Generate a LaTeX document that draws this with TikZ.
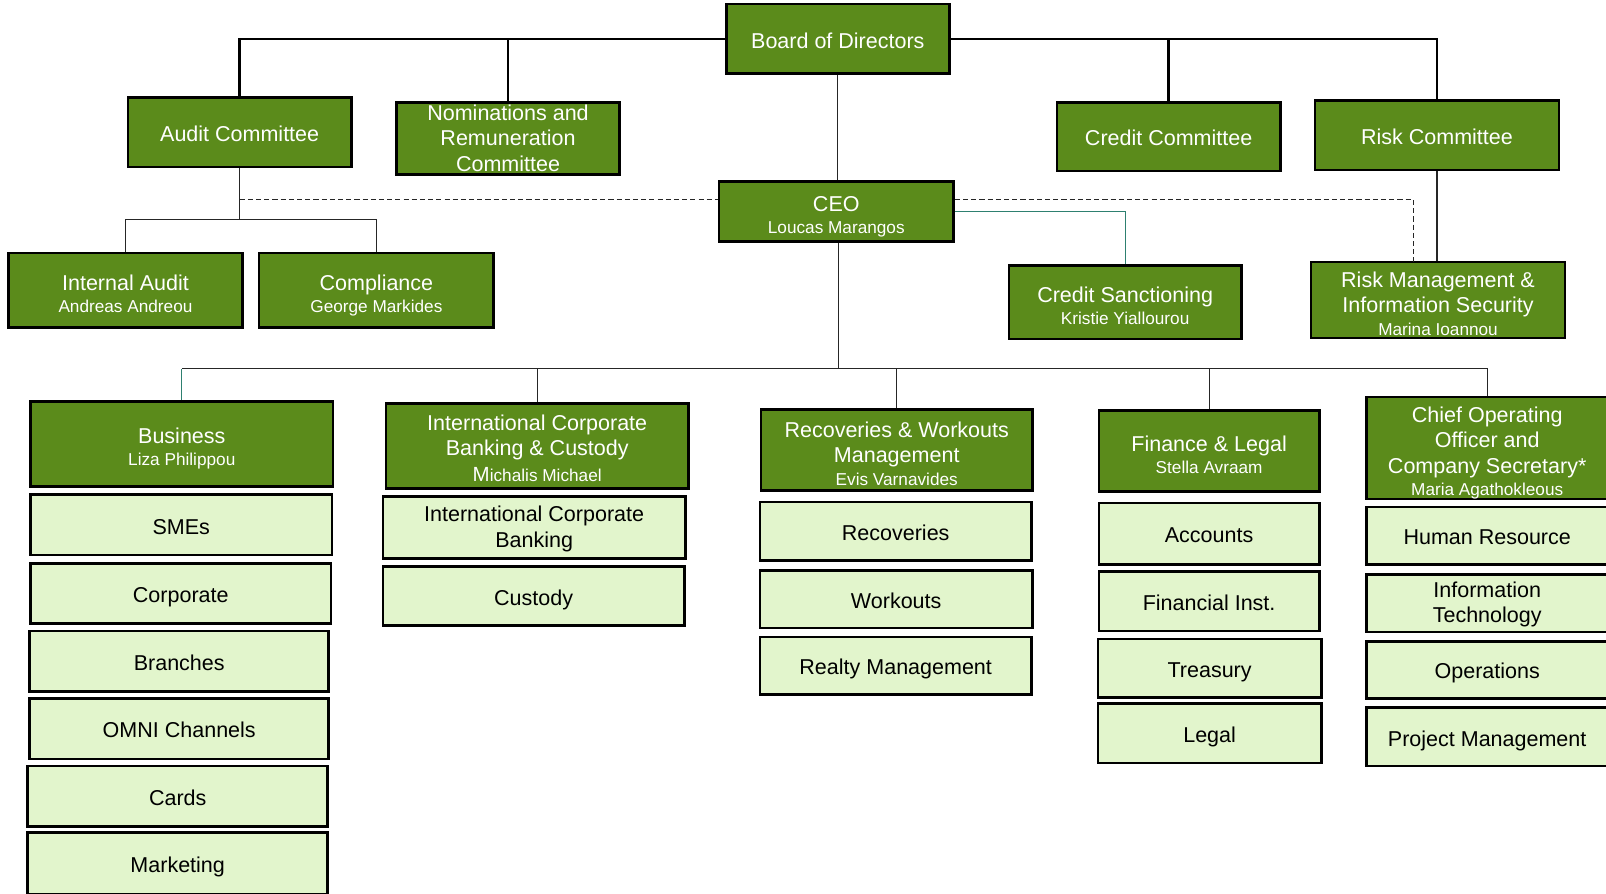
\documentclass[tikz,border=0pt]{standalone}
\usepackage{fontspec}
\setmainfont{Liberation Sans}
\definecolor{hdrgreen}{RGB}{91,139,27}
\definecolor{lightgreen}{RGB}{226,245,204}
\definecolor{tealline}{RGB}{46,128,112}
\newcommand{\st}{\rule[-3pt]{0pt}{20.8pt}}
\newcommand{\hst}{\rule{0pt}{24.6pt}}
\newcommand{\sst}{\rule[-3pt]{0pt}{10pt}}
\newcommand{\subn}[1]{{\fontsize{16.8}{19}\selectfont #1\sst}}
\begin{document}
\begin{tikzpicture}[x=1pt,y=-1pt,
  box/.style={draw=black,line width=2.6pt,inner sep=0pt,align=center,font=\fontsize{21}{24.8}\selectfont},
  hdr/.style={box,fill=hdrgreen,text=white},
  sub/.style={box,fill=lightgreen,text=black},
  one/.style={text height=20.8pt,text depth=3pt},
  thickcon/.style={draw=black,line width=2.4pt},
  thincon/.style={draw=black!85,line width=1.2pt},
  dashcon/.style={draw=black!85,line width=1.2pt,dash pattern=on 5pt off 3pt},
  tealcon/.style={draw=tealline,line width=1.2pt}]
\useasboundingbox (0,0) rectangle (1568,872);
\fill[white] (0,0) rectangle (1568,872);

% top level
\node[hdr,one,minimum width=218pt,minimum height=68pt] (board) at (818,38) {Board of Directors};
\node[hdr,one,minimum width=218pt,minimum height=68pt] (audit) at (234,129) {Audit Committee};
\node[hdr,minimum width=218pt,minimum height=70pt] (nom) at (496,135) {\st Nominations and\\Remuneration\\Committee\st};
\node[hdr,one,minimum width=218pt,minimum height=67pt] (credit) at (1141,133.5) {Credit Committee};
\node[hdr,one,minimum width=238pt,minimum height=68pt] (risk) at (1403,132) {Risk Committee};
\node[hdr,minimum width=229pt,minimum height=59pt] (ceo) at (816.5,206.5) {\hst CEO\\[-3pt]\subn{Loucas Marangos}};
\node[hdr,minimum width=229pt,minimum height=73pt] (ia) at (122.5,283.5) {\hst Internal Audit\\[-3pt]\subn{Andreas Andreou}};
\node[hdr,minimum width=229pt,minimum height=73pt] (comp) at (367.5,283.5) {\hst Compliance\\[-3pt]\subn{George Markides}};
\node[hdr,minimum width=227pt,minimum height=72pt] (cs) at (1098.5,295) {\hst Credit Sanctioning\\[-3pt]\subn{Kristie Yiallourou}};
\node[hdr,minimum width=248pt,minimum height=74pt] (rmis) at (1404,293) {\hst Risk Management \&\\Information Security\\[-3pt]\subn{Marina Ioannou}};

% divisions
\node[hdr,minimum width=295pt,minimum height=83pt] (business) at (177.5,433.5) {\hst Business\\[-3pt]\subn{Liza Philippou}};
\node[hdr,minimum width=295pt,minimum height=83pt] (icbc) at (524.5,435.5) {\rule{0pt}{22pt}International Corporate\\Banking \& Custody\\\subn{{\fontsize{20}{19}\selectfont M}ichalis Michael}};
\node[hdr,minimum width=265pt,minimum height=79pt] (rwm) at (875.5,439.5) {\hst Recoveries \& Workouts\\Management\\[-3pt]\subn{Evis Varnavides}};
\node[hdr,minimum width=215pt,minimum height=79pt] (fin) at (1180.5,440.5) {\hst Finance \& Legal\\[-3pt]\subn{Stella Avraam}};
\node[hdr,minimum width=236pt,minimum height=95pt] (coo) at (1452,437.5) {\hst Chief Operating\\Officer and\\Company Secretary*\\[-3pt]\subn{Maria Agathokleous}};

% units
\node[sub,one,minimum width=294pt,minimum height=59pt] (smes) at (177,512.5) {SMEs};
\node[sub,one,minimum width=293pt,minimum height=59pt] (corp) at (176.5,579.5) {Corporate};
\node[sub,one,minimum width=292pt,minimum height=59pt] (branches) at (175,645.5) {Branches};
\node[sub,one,minimum width=292pt,minimum height=59pt] (omni) at (175,711.5) {OMNI Channels};
\node[sub,one,minimum width=293pt,minimum height=59pt] (cards) at (173.5,777.5) {Cards};
\node[sub,one,minimum width=293pt,minimum height=60pt] (marketing) at (173.5,843) {Marketing};

\node[sub,minimum width=295pt,minimum height=60pt] (icb) at (521.5,515) {\st International Corporate\\Banking\st};
\node[sub,one,minimum width=294pt,minimum height=58pt] (custody) at (521,582) {Custody};

\node[sub,one,minimum width=265pt,minimum height=57pt] (recov) at (874.5,518.5) {Recoveries};
\node[sub,one,minimum width=266pt,minimum height=56pt] (workouts) at (875,585) {Workouts};
\node[sub,one,minimum width=265pt,minimum height=56pt] (realty) at (874.5,650) {Realty Management};

\node[sub,one,minimum width=215pt,minimum height=60pt] (accounts) at (1180.5,521) {Accounts};
\node[sub,one,minimum width=215pt,minimum height=58pt] (finst) at (1180.5,587) {Financial Inst.};
\node[sub,one,minimum width=218pt,minimum height=57pt] (treasury) at (1181,652.5) {Treasury};
\node[sub,one,minimum width=218pt,minimum height=58pt] (legal) at (1181,716) {Legal};

\node[sub,one,minimum width=236pt,minimum height=56pt] (hr) at (1452,523) {Human Resource};
\node[sub,minimum width=236pt,minimum height=56pt] (it) at (1452,589) {\st Information\\Technology\st};
\node[sub,one,minimum width=236pt,minimum height=56pt] (ops) at (1452,654) {Operations};
\node[sub,one,minimum width=236pt,minimum height=57pt] (pm) at (1452,719.5) {Project Management};

% board connectors
\draw[thickcon] (board.west) -| (audit.north);
\draw[thickcon] (nom.north) -- (nom.north |- board.west);
\draw[thickcon] (board.east) -| (risk.north);
\draw[thickcon] (credit.north) -- (credit.north |- board.east);
\draw[thincon] (board.south) -- (board.south |- ceo.north);
\draw[thincon] (risk.south) -- (risk.south |- rmis.north);

% audit tree
\coordinate (abus) at (234,214);
\draw[thincon] (audit.south) -- (abus);
\draw[thincon] (ia.north) |- (abus) -| (comp.north);

% dashed lines
\coordinate (ad) at (234,195);
\draw[dashcon] (ad) -- (ceo.west |- ad);
\coordinate (rmd) at (1380,256);
\draw[dashcon] (ceo.east |- ad) -| (rmd);
\draw[tealcon] (ceo.east) -| (cs.north);

% bus
\coordinate (bus) at (819,360);
\draw[thincon] (ceo.south -| bus) -- (bus);
\draw[thincon] (business.north |- bus) -- (coo.north |- bus) -- (coo.north);
\draw[tealcon] (business.north) -- (business.north |- bus);
\draw[thincon] (icbc.north) -- (icbc.north |- bus);
\draw[thincon] (rwm.north) -- (rwm.north |- bus);
\draw[thincon] (fin.north) -- (fin.north |- bus);
\end{tikzpicture}
\end{document}
